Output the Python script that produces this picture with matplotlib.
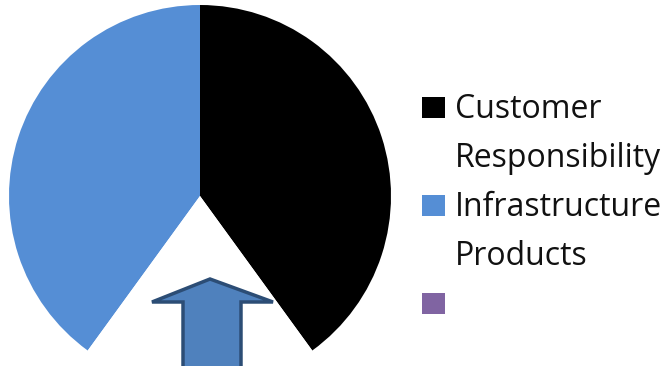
import matplotlib.pyplot as plt
from matplotlib.patches import Rectangle, Polygon

# Data
labels = ["Customer\nResponsibility", "Infrastructure\nProducts", ""]
values = [40, 40, 20]
slice_colors = ["#000000", "#558ED5", "#FFFFFF"]
legend_colors = ["#000000", "#558ED5", "#8064A2"]

W, H = 670, 366
fig = plt.figure(figsize=(W / 100, H / 100), dpi=100)

# Pie axes: centre (200, 196) px from top-left, radius 191 px
cx, cy, r = 200, 196, 191
ax = fig.add_axes([(cx - r) / W, (H - cy - r) / H, 2 * r / W, 2 * r / H])
ax.pie(values, colors=slice_colors, startangle=-54, counterclock=True,
       radius=1, wedgeprops=dict(linewidth=0))
ax.set_xlim(-1, 1)
ax.set_ylim(-1, 1)
ax.set_aspect("auto")
ax.axis("off")

# Up arrow under the gap (pixel coords, y from top)
arrow_px = [(152, 302), (210, 279), (273, 302), (241, 302), (241, 370),
            (183, 370), (183, 302)]
arrow = Polygon([(x / W, 1 - y / H) for x, y in arrow_px], closed=True,
                transform=fig.transFigure, facecolor="#4F81BD",
                edgecolor="#2C4D75", linewidth=2.5, joinstyle="miter")
fig.patches.append(arrow)

# Legend, drawn by hand so the square sits on the first line
line_h = 49
y0 = 118
for i, (lab, col) in enumerate(zip(labels, legend_colors)):
    y = y0 + 2 * i * line_h
    fig.patches.append(Rectangle((422 / W, 1 - y / H), 23 / W, 21 / H,
                                 transform=fig.transFigure, facecolor=col,
                                 edgecolor="none"))
    for j, part in enumerate(lab.split("\n")):
        fig.text(455 / W, 1 - (y + j * line_h) / H, part, fontsize=23,
                 family="Open Sans", color="#111111", va="baseline",
                 ha="left")

fig.savefig("out.png", dpi=100)
